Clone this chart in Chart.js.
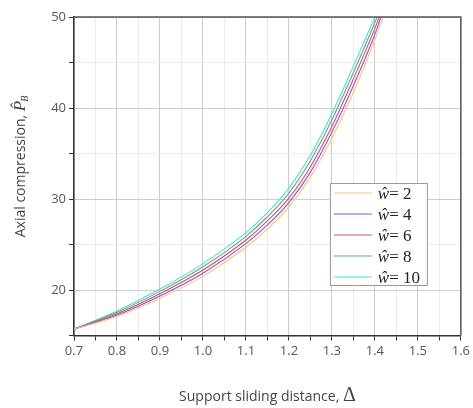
<!DOCTYPE html>
<html>
<head>
<meta charset="utf-8">
<script src="https://cdn.jsdelivr.net/npm/chart.js@4.4.1/dist/chart.umd.min.js"></script>
<style>
  html, body { margin: 0; padding: 0; background: #fff; }
  #wrap { width: 473px; height: 408px; }
</style>
</head>
<body>
<div id="wrap"><canvas id="pbChart"></canvas></div>
<script>
// support sliding distance (x) where the curves were read
const deltaX = [0.7, 0.8, 0.9, 1.0, 1.1, 1.15, 1.2, 1.25, 1.3, 1.35, 1.4];

// axial compression P_B for each w
const pB_w2  = [15.7, 17.1, 19.1, 21.5, 24.7, 26.7, 29.1, 32.4, 36.7, 41.7, 47.5];
const pB_w4  = [15.7, 17.25, 19.35, 21.85, 25.1, 27.15, 29.6, 32.95, 37.35, 42.45, 48.1];
const pB_w6  = [15.7, 17.4, 19.6, 22.2, 25.5, 27.6, 30.1, 33.55, 38.0, 43.2, 48.75];
const pB_w8  = [15.7, 17.55, 19.85, 22.55, 25.9, 28.05, 30.65, 34.2, 38.7, 43.9, 49.4];
const pB_w10 = [15.7, 17.7, 20.1, 22.9, 26.3, 28.5, 31.2, 34.8, 39.4, 44.6, 50.0];

const wValues = [2, 4, 6, 8, 10];
const seriesP = [pB_w2, pB_w4, pB_w6, pB_w8, pB_w10];
// delta where each curve leaves the plot at P = 50 (null: already ends there)
const exitDelta = [1.419, 1.414, 1.41, 1.405, null];
const exitP = 50;

const lineColors = ['#f2c283', '#9457b8', '#cc4a94', '#6aa86a', '#4fdcdc'];

const sansFont = "'Open Sans', 'Noto Sans', sans-serif";
const serifFont = "'Liberation Serif', 'DejaVu Serif', serif";

function isMajor(v, step) {
  const r = v / step;
  return Math.abs(r - Math.round(r)) < 1e-6;
}

// datasets
const datasets = seriesP.map((vals, i) => {
  const pts = deltaX.map((x, k) => ({ x: x, y: vals[k] }));
  if (exitDelta[i] !== null) pts.push({ x: exitDelta[i], y: exitP });
  return {
    label: 'w = ' + wValues[i],
    data: pts,
    borderColor: lineColors[i],
    backgroundColor: lineColors[i],
    borderWidth: 1.1,
    pointRadius: 0,
    fill: false,
    cubicInterpolationMode: 'monotone'
  };
});

// frame, axis titles and inset legend
const decorPlugin = {
  id: 'decor',
  afterDraw(chart) {
    const { ctx, chartArea: a } = chart;
    ctx.save();

    // top / right frame
    ctx.strokeStyle = '#555';
    ctx.lineWidth = 1.5;
    ctx.beginPath();
    ctx.moveTo(a.left, a.top);
    ctx.lineTo(a.right, a.top);
    ctx.lineTo(a.right, a.bottom);
    ctx.stroke();

    // x title
    const xt1 = 'Support sliding distance, ';
    const xt2 = 'Δ';
    ctx.fillStyle = '#444';
    ctx.textBaseline = 'alphabetic';
    ctx.font = '14px ' + sansFont;
    const w1 = ctx.measureText(xt1).width;
    ctx.font = '20px ' + serifFont;
    const w2 = ctx.measureText(xt2).width;
    let x0 = (a.left + a.right) / 2 - (w1 + w2) / 2;
    ctx.textAlign = 'left';
    ctx.font = '14px ' + sansFont;
    ctx.fillText(xt1, x0, 401);
    ctx.font = '20px ' + serifFont;
    ctx.fillText(xt2, x0 + w1, 401);

    // y title (rotated)
    ctx.save();
    ctx.translate(25, 166);
    ctx.rotate(-Math.PI / 2);
    const yt1 = 'Axial compression, ';
    ctx.font = '14px ' + sansFont;
    const yw1 = ctx.measureText(yt1).width;
    ctx.font = 'italic 17px ' + serifFont;
    const yw2 = ctx.measureText('P').width;
    ctx.font = 'italic 10px ' + serifFont;
    const yw3 = ctx.measureText('B').width;
    let ys = -(yw1 + yw2 + yw3) / 2;
    ctx.font = '14px ' + sansFont;
    ctx.fillText(yt1, ys, 0);
    ctx.font = 'italic 17px ' + serifFont;
    ctx.fillText('P\u0302', ys + yw1, 0);
    ctx.font = 'italic 10px ' + serifFont;
    ctx.fillText('B', ys + yw1 + yw2 - 1, 3);
    ctx.restore();

    // legend box
    const bx = a.right - 131, by = a.top + 166, bw = 97, bh = 102;
    ctx.fillStyle = '#fff';
    ctx.fillRect(bx, by, bw, bh);
    ctx.strokeStyle = '#9a9a9a';
    ctx.lineWidth = 1;
    ctx.strokeRect(bx + 0.5, by + 0.5, bw, bh);
    wValues.forEach((w, i) => {
      const ly = by + 10 + i * 21;
      ctx.strokeStyle = lineColors[i];
      ctx.lineWidth = 1.1;
      ctx.beginPath();
      ctx.moveTo(bx + 4, ly);
      ctx.lineTo(bx + 42, ly);
      ctx.stroke();
      ctx.fillStyle = '#222';
      ctx.textBaseline = 'middle';
      ctx.font = 'italic 17px ' + serifFont;
      ctx.fillText('ŵ', bx + 48, ly + 2);
      const ww = ctx.measureText('ŵ').width;
      ctx.font = '17px ' + serifFont;
      ctx.fillText('= ' + w, bx + 48 + ww, ly + 2);
    });

    ctx.restore();
  }
};

const chart = new Chart(document.getElementById('pbChart'), {
  type: 'line',
  data: { datasets: datasets },
  plugins: [decorPlugin],
  options: {
    responsive: true,
    maintainAspectRatio: false,
    animation: false,
    layout: { padding: { top: 17, right: 9, left: 0, bottom: 0 } },
    plugins: {
      legend: { display: false },
      tooltip: { enabled: false }
    },
    scales: {
      x: {
        type: 'linear',
        min: 0.7,
        max: 1.6,
        afterFit: s => { s.height = 72.5; },
        border: { display: true, color: '#333', width: 1.5 },
        grid: {
          color: c => isMajor(c.tick.value, 0.1) ? '#cdcdcd' : '#ececec',
          tickColor: '#333',
          tickLength: 5
        },
        ticks: {
          stepSize: 0.05,
          autoSkip: false,
          maxTicksLimit: 100,
          maxRotation: 0,
          padding: 3,
          color: '#555',
          font: { size: 13, family: sansFont },
          callback: v => isMajor(v, 0.1) ? v.toFixed(1) : ''
        }
      },
      y: {
        type: 'linear',
        min: 15,
        max: 50,
        afterFit: s => { s.width = 74; },
        border: { display: true, color: '#333', width: 1.5 },
        grid: {
          color: c => isMajor(c.tick.value, 10) ? '#cdcdcd' : '#ececec',
          tickColor: '#333',
          tickLength: 5
        },
        ticks: {
          stepSize: 5,
          autoSkip: false,
          padding: 3,
          color: '#555',
          font: { size: 13, family: sansFont },
          callback: v => isMajor(v, 10) ? String(v) : ''
        }
      }
    }
  }
});
</script>
</body>
</html>
